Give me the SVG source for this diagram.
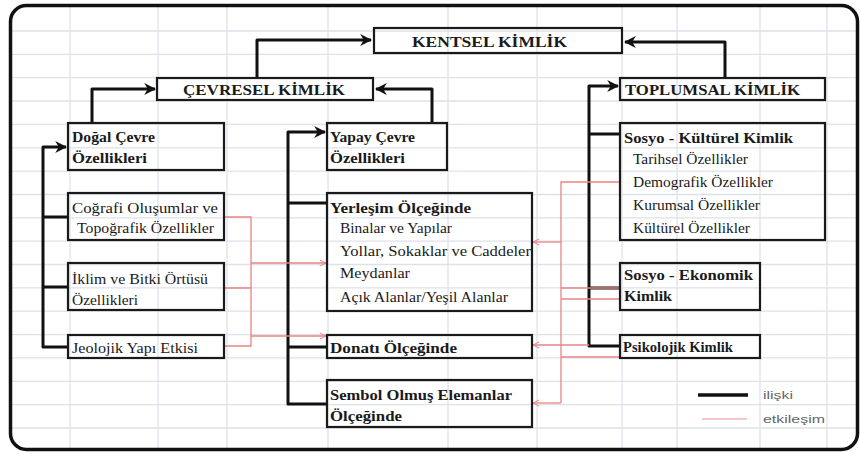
<svg xmlns="http://www.w3.org/2000/svg" width="860" height="454" viewBox="0 0 860 454">
<style>
.grid line{stroke:#dde2ea;stroke-width:1.3}
.box{fill:none;stroke:#1a1a1a;stroke-width:2.2}
.b{font-family:'Liberation Serif','Times New Roman',serif;font-weight:bold;font-size:15px;fill:#1a1a1a}
.n{font-family:'Liberation Serif','Times New Roman',serif;font-size:14.5px;fill:#1a1a1a}
.lg{font-family:'Liberation Sans',Arial,sans-serif;font-size:11px;fill:#666}
.rel{fill:none;stroke:#111;stroke-width:3;stroke-linejoin:round}
.eff{fill:none;stroke:#e98585;stroke-width:1.3}
</style>
<defs>
<marker id="ab" viewBox="0 0 10 10" refX="9" refY="5" markerWidth="4" markerHeight="4" orient="auto" markerUnits="strokeWidth">
<path d="M0,0 L10,5 L0,10 L3,5 z" fill="#111"/>
</marker>
<marker id="ar" viewBox="0 0 10 10" refX="9" refY="5" markerWidth="6" markerHeight="6" orient="auto" markerUnits="strokeWidth">
<path d="M1,1 L9,5 L1,9" fill="none" stroke="#e98585" stroke-width="1.3"/>
</marker>
</defs>
<rect x="0" y="0" width="860" height="454" fill="#fff"/>
<g class="grid">
<line x1="12" y1="31" x2="856" y2="31"/>
<line x1="12" y1="54.4" x2="856" y2="54.4"/>
<line x1="12" y1="77.7" x2="856" y2="77.7"/>
<line x1="12" y1="101" x2="856" y2="101"/>
<line x1="12" y1="124.4" x2="856" y2="124.4"/>
<line x1="12" y1="147.8" x2="856" y2="147.8"/>
<line x1="12" y1="171.1" x2="856" y2="171.1"/>
<line x1="12" y1="194.5" x2="856" y2="194.5"/>
<line x1="12" y1="217.8" x2="856" y2="217.8"/>
<line x1="12" y1="241.2" x2="856" y2="241.2"/>
<line x1="12" y1="264.5" x2="856" y2="264.5"/>
<line x1="12" y1="287.9" x2="856" y2="287.9"/>
<line x1="12" y1="311.2" x2="856" y2="311.2"/>
<line x1="12" y1="334.6" x2="856" y2="334.6"/>
<line x1="12" y1="357.9" x2="856" y2="357.9"/>
<line x1="12" y1="381.3" x2="856" y2="381.3"/>
<line x1="12" y1="404.6" x2="856" y2="404.6"/>
<line x1="12" y1="428" x2="856" y2="428"/>
<line x1="70" y1="7" x2="70" y2="448"/>
<line x1="158" y1="7" x2="158" y2="448"/>
<line x1="227" y1="7" x2="227" y2="448"/>
<line x1="328" y1="7" x2="328" y2="448"/>
<line x1="448" y1="7" x2="448" y2="448"/>
<line x1="537" y1="7" x2="537" y2="448"/>
<line x1="622" y1="7" x2="622" y2="448"/>
<line x1="677" y1="7" x2="677" y2="448"/>
<line x1="760" y1="7" x2="760" y2="448"/>
<line x1="827" y1="7" x2="827" y2="448"/>
</g>
<rect x="10.5" y="5.5" width="847" height="444" rx="16" fill="none" stroke="#111" stroke-width="3.5"/>
<g id="connectors">
<path class="rel" d="M257,78 V40 H371" marker-end="url(#ab)"/>
<path class="rel" d="M725,78 V42 H625" marker-end="url(#ab)"/>
<path class="rel" d="M92,123 V89 H155" marker-end="url(#ab)"/>
<path class="rel" d="M432,123 V89 H376" marker-end="url(#ab)"/>
<path class="rel" d="M68,347 H43 V147 H66" marker-end="url(#ab)"/>
<path class="rel" d="M43,217 H68 M43,287 H68"/>
<path class="rel" d="M327,404 H288 V132 H325" marker-end="url(#ab)"/>
<path class="rel" d="M288,203 H327 M288,347 H327"/>
<path class="rel" d="M620,346 H589 V86 H618" marker-end="url(#ab)"/>
<path class="rel" d="M589,134 H620 M589,288 H620"/>
<path class="eff" d="M224,217 H251 V346 H224 M224,288 H251"/>
<path class="eff" d="M251,263 H326" marker-end="url(#ar)"/>
<path class="eff" d="M251,336 H326" marker-end="url(#ar)"/>
<path class="eff" d="M620,182 H561 V403 M561,288 H620 M561,299 H620 M561,357 H620"/>
<path class="eff" d="M561,242 H533" marker-end="url(#ar)"/>
<path class="eff" d="M589,345 H533" marker-end="url(#ar)"/>
<path class="eff" d="M561,403 H533" marker-end="url(#ar)"/>
</g>
<g id="kentsel">
<rect class="box" x="374" y="28" width="248" height="25"/>
<text class="b" x="412" y="47" textLength="155" lengthAdjust="spacingAndGlyphs">KENTSEL KİMLİK</text>
</g>
<g id="cevresel">
<rect class="box" x="157" y="78" width="216" height="22"/>
<text class="b" x="183" y="95" textLength="162" lengthAdjust="spacingAndGlyphs">ÇEVRESEL KİMLİK</text>
</g>
<g id="toplumsal">
<rect class="box" x="620" y="78" width="205" height="22"/>
<text class="b" x="625" y="95" textLength="175" lengthAdjust="spacingAndGlyphs">TOPLUMSAL KİMLİK</text>
</g>
<g id="dogal">
<rect class="box" x="68" y="123" width="156" height="47"/>
<text class="b" x="72" y="142" textLength="83" lengthAdjust="spacingAndGlyphs">Doğal Çevre</text>
<text class="b" x="72" y="163" textLength="75" lengthAdjust="spacingAndGlyphs">Özellikleri</text>
</g>
<g id="yapay">
<rect class="box" x="327" y="123" width="120" height="47"/>
<text class="b" x="330" y="142" textLength="85" lengthAdjust="spacingAndGlyphs">Yapay Çevre</text>
<text class="b" x="330" y="163" textLength="75" lengthAdjust="spacingAndGlyphs">Özellikleri</text>
</g>
<g id="cografi">
<rect class="box" x="68" y="193" width="156" height="47"/>
<text class="n" x="72" y="213" textLength="146" lengthAdjust="spacingAndGlyphs">Coğrafi Oluşumlar ve</text>
<text class="n" x="77" y="233" textLength="137" lengthAdjust="spacingAndGlyphs">Topoğrafik Özellikler</text>
</g>
<g id="iklim">
<rect class="box" x="68" y="263" width="156" height="47"/>
<text class="n" x="72" y="284" textLength="136" lengthAdjust="spacingAndGlyphs">İklim ve Bitki Örtüsü</text>
<text class="n" x="72" y="305" textLength="66" lengthAdjust="spacingAndGlyphs">Özellikleri</text>
</g>
<g id="jeolojik">
<rect class="box" x="68" y="335" width="156" height="23"/>
<text class="n" x="72" y="353" textLength="126" lengthAdjust="spacingAndGlyphs">Jeolojik Yapı Etkisi</text>
</g>
<g id="yerlesim">
<rect class="box" x="327" y="193" width="205" height="118"/>
<text class="b" x="330" y="213" textLength="141" lengthAdjust="spacingAndGlyphs">Yerleşim Ölçeğinde</text>
<text class="n" x="340" y="233" textLength="112" lengthAdjust="spacingAndGlyphs">Binalar ve Yapılar</text>
<text class="n" x="340" y="256" textLength="191" lengthAdjust="spacingAndGlyphs">Yollar, Sokaklar ve Caddeler</text>
<text class="n" x="340" y="278" textLength="70" lengthAdjust="spacingAndGlyphs">Meydanlar</text>
<text class="n" x="340" y="302" textLength="168" lengthAdjust="spacingAndGlyphs">Açık Alanlar/Yeşil Alanlar</text>
</g>
<g id="donati">
<rect class="box" x="327" y="335" width="205" height="23"/>
<text class="b" x="330" y="353" textLength="127" lengthAdjust="spacingAndGlyphs">Donatı Ölçeğinde</text>
</g>
<g id="sembol">
<rect class="box" x="327" y="380" width="205" height="47"/>
<text class="b" x="330" y="400" textLength="182" lengthAdjust="spacingAndGlyphs">Sembol Olmuş Elemanlar</text>
<text class="b" x="330" y="421" textLength="72" lengthAdjust="spacingAndGlyphs">Ölçeğinde</text>
</g>
<g id="sosyokulturel">
<rect class="box" x="620" y="123" width="205" height="117"/>
<text class="b" x="624" y="143" textLength="169" lengthAdjust="spacingAndGlyphs">Sosyo - Kültürel Kimlik</text>
<text class="n" x="633" y="164" textLength="115" lengthAdjust="spacingAndGlyphs">Tarihsel Özellikler</text>
<text class="n" x="633" y="187" textLength="140" lengthAdjust="spacingAndGlyphs">Demografik Özellikler</text>
<text class="n" x="633" y="210" textLength="127" lengthAdjust="spacingAndGlyphs">Kurumsal Özellikler</text>
<text class="n" x="633" y="233" textLength="117" lengthAdjust="spacingAndGlyphs">Kültürel Özellikler</text>
</g>
<g id="sosyoekonomik">
<rect class="box" x="620" y="263" width="140" height="47"/>
<text class="b" x="624" y="280" textLength="129" lengthAdjust="spacingAndGlyphs">Sosyo - Ekonomik</text>
<text class="b" x="624" y="301" textLength="48" lengthAdjust="spacingAndGlyphs">Kimlik</text>
</g>
<g id="psikolojik">
<rect class="box" x="620" y="335" width="140" height="23"/>
<text class="b" x="623" y="352" textLength="110" lengthAdjust="spacingAndGlyphs" font-size="13">Psikolojik Kimlik</text>
</g>
<g id="legend">
<line x1="698" y1="395" x2="748" y2="395" stroke="#111" stroke-width="3.5"/>
<line x1="702" y1="419" x2="747" y2="419" stroke="#f3b4b4" stroke-width="1.5"/>
<text class="lg" x="763" y="399" textLength="30" lengthAdjust="spacingAndGlyphs">ilişki</text>
<text class="lg" x="763" y="423" textLength="62" lengthAdjust="spacingAndGlyphs">etkileşim</text>
</g>
</svg>
